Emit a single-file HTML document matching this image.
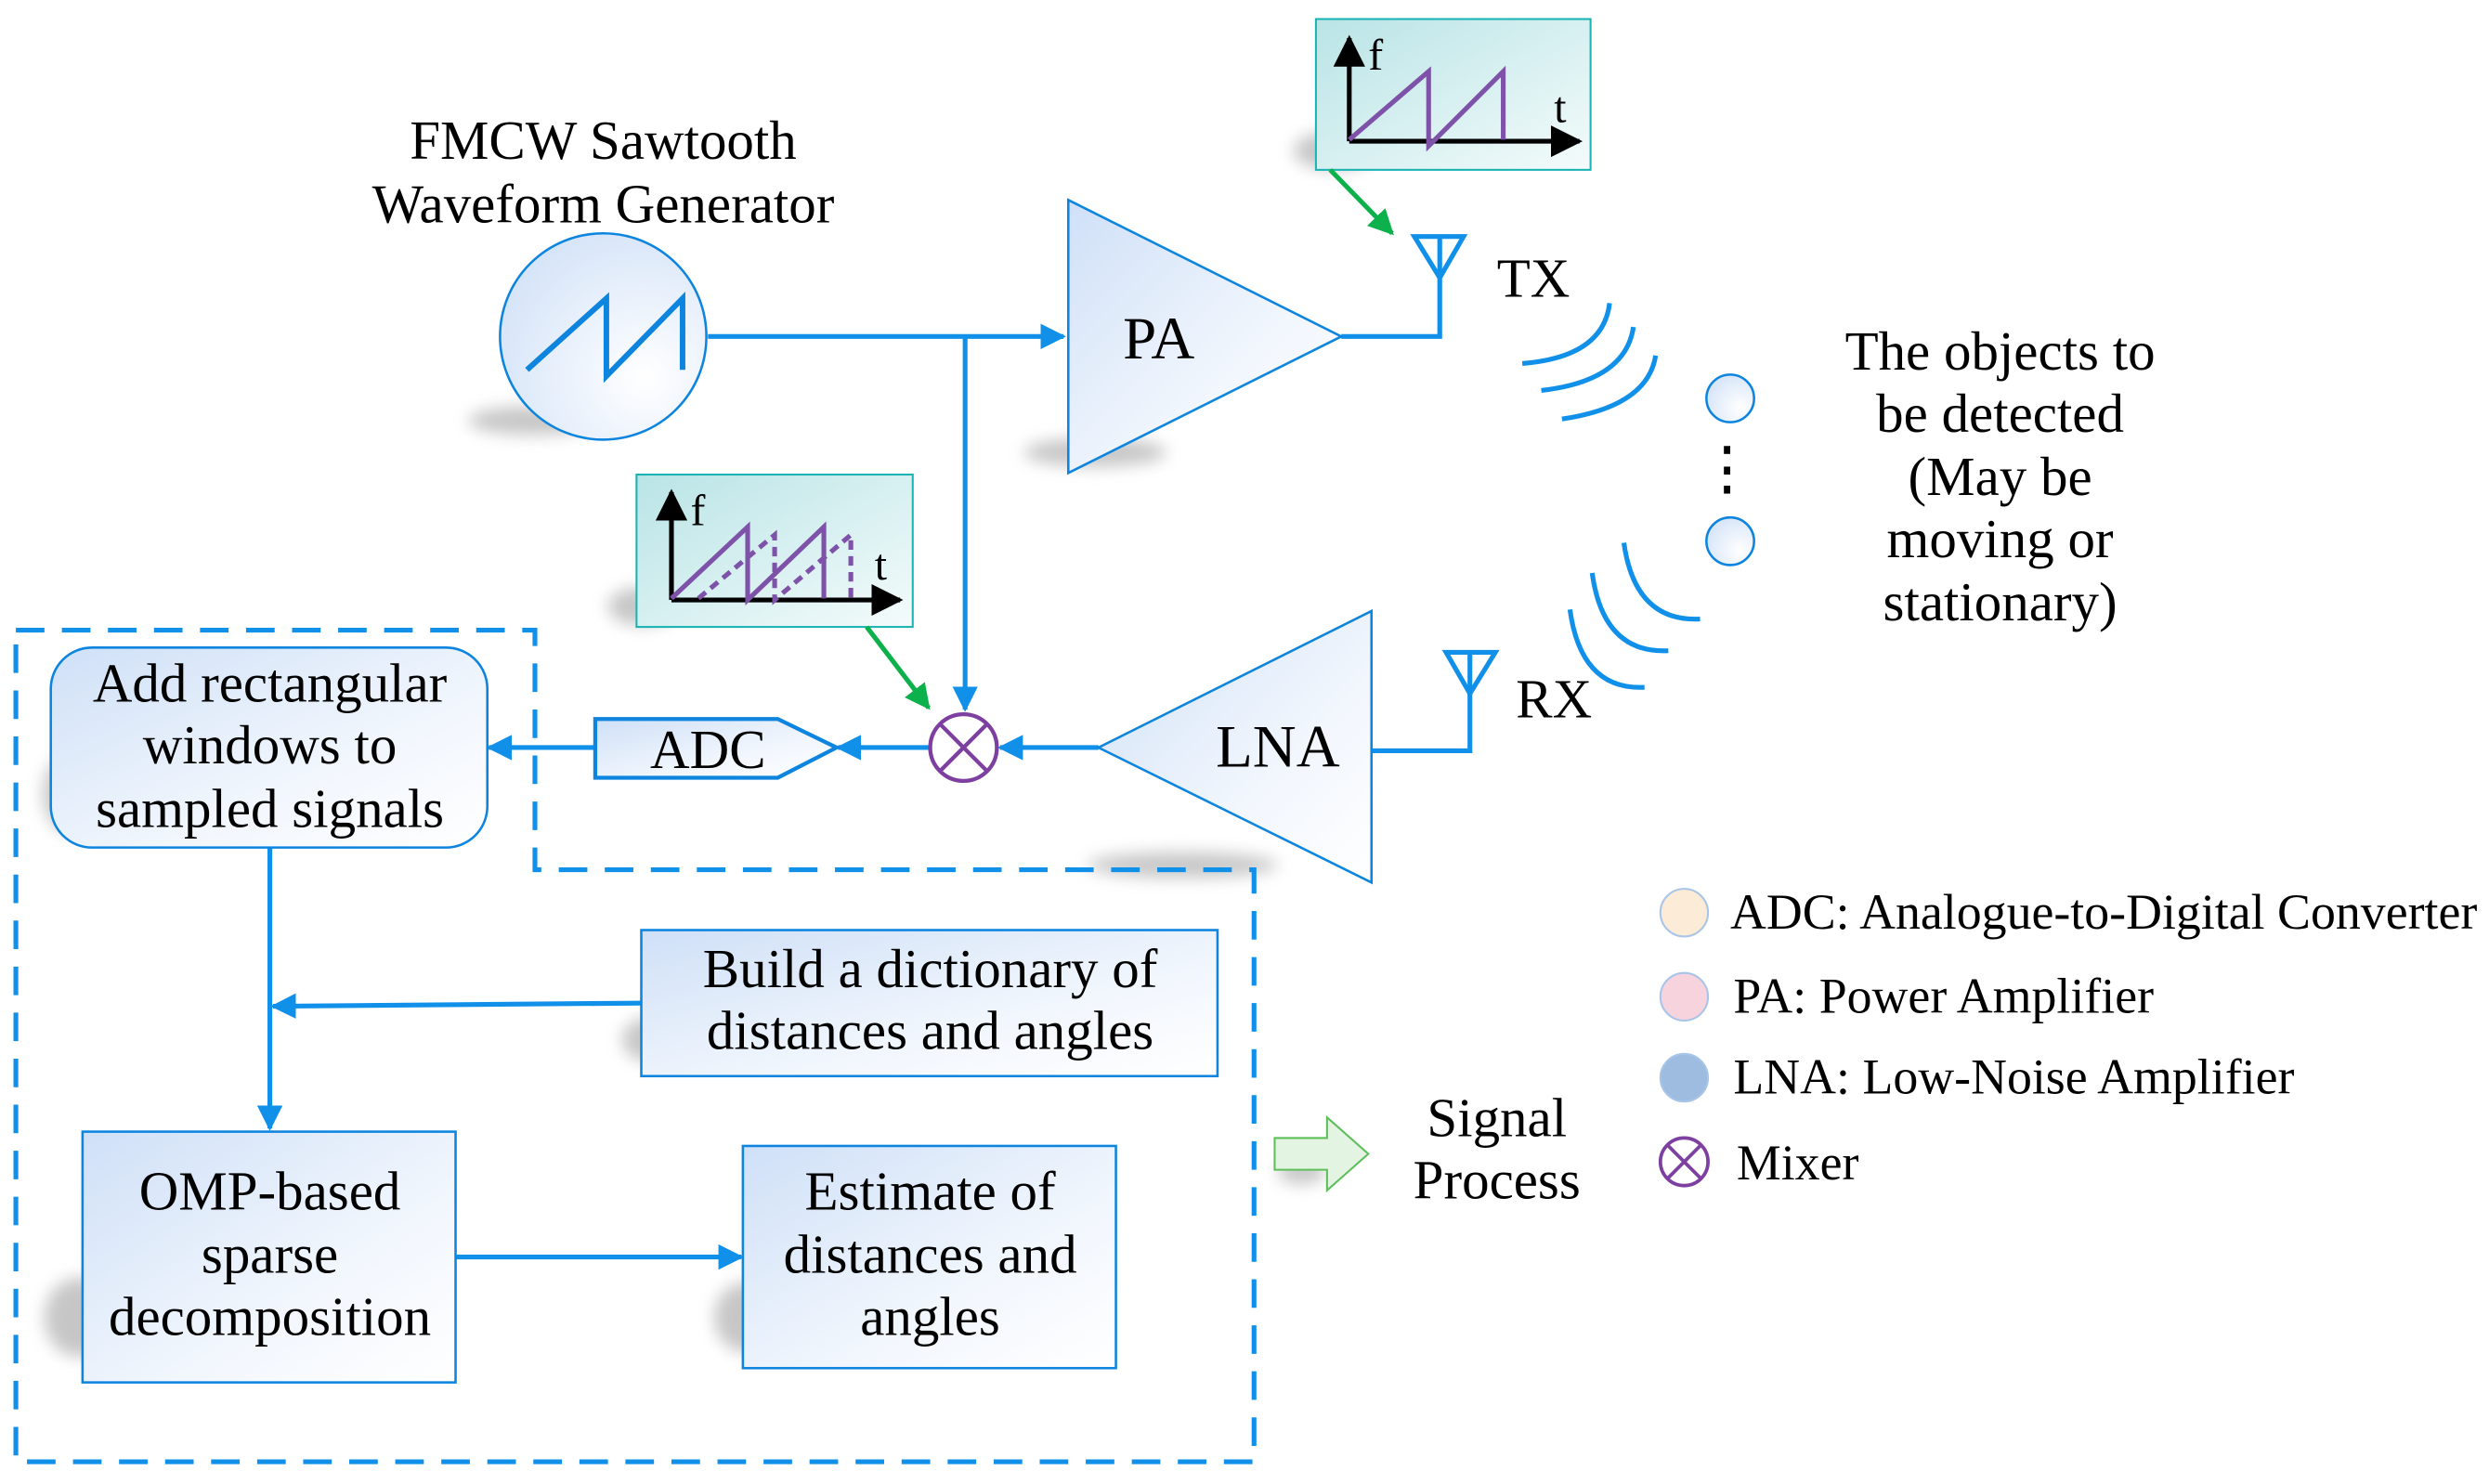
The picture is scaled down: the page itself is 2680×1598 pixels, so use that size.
<!DOCTYPE html>
<html><head><meta charset="utf-8"><style>html,body{margin:0;padding:0;background:#fff}svg{display:block}</style></head>
<body>
<svg width="2680" height="1598" viewBox="0 0 1568 935" preserveAspectRatio="none" xmlns="http://www.w3.org/2000/svg" font-family="'Liberation Serif', serif" font-size="34.5">
<defs>
<linearGradient id="bg" x1="0" y1="0" x2="1" y2="1"><stop offset="0" stop-color="#cfe0f7"/><stop offset="0.6" stop-color="#f1f6fd"/><stop offset="1" stop-color="#ffffff"/></linearGradient>
<linearGradient id="tg" x1="0" y1="0" x2="1" y2="1"><stop offset="0" stop-color="#b9e4e6"/><stop offset="1" stop-color="#f4fbfb"/></linearGradient>
<radialGradient id="cg" cx="0.7" cy="0.7" r="0.8"><stop offset="0" stop-color="#ffffff"/><stop offset="1" stop-color="#d4e3f8"/></radialGradient>
<filter id="blur" x="-50%" y="-50%" width="200%" height="200%"><feGaussianBlur stdDeviation="5"/></filter>
<marker id="ab" viewBox="0 0 10 10" markerWidth="16" markerHeight="16" refX="9" refY="5" orient="auto" markerUnits="userSpaceOnUse"><path d="M0,0 L10,5 L0,10 Z" fill="#1190ea"/></marker>
<marker id="ag" viewBox="0 0 10 10" markerWidth="16" markerHeight="16" refX="9" refY="5" orient="auto" markerUnits="userSpaceOnUse"><path d="M0,0 L10,5 L0,10 Z" fill="#0db14b"/></marker>
<marker id="ak" viewBox="0 0 10 10" markerWidth="20" markerHeight="20" refX="9" refY="5" orient="auto" markerUnits="userSpaceOnUse"><path d="M0,0 L10,5 L0,10 Z" fill="#000"/></marker>
</defs>

<g fill="#999" opacity="0.55" filter="url(#blur)">
<ellipse cx="335" cy="265" rx="40" ry="9"/>
<ellipse cx="690" cy="285" rx="45" ry="9"/>
<ellipse cx="745" cy="545" rx="60" ry="8"/>
<ellipse cx="45" cy="500" rx="18" ry="25"/>
<ellipse cx="410" cy="655" rx="18" ry="14"/>
<ellipse cx="50" cy="830" rx="22" ry="25"/>
<ellipse cx="470" cy="830" rx="20" ry="22"/>
<ellipse cx="840" cy="95" rx="25" ry="12"/>
<ellipse cx="405" cy="382" rx="22" ry="12"/>
<ellipse cx="820" cy="738" rx="15" ry="8"/>
</g>

<text x="380" y="100" text-anchor="middle">FMCW Sawtooth</text>
<text x="380" y="140" text-anchor="middle">Waveform Generator</text>

<ellipse cx="380" cy="212" rx="65" ry="65" fill="url(#cg)" stroke="#0d85de" stroke-width="1.5"/>
<polyline points="332,233 382,188 382,237 430,188 430,233" fill="none" stroke="#0d85de" stroke-width="3.5"/>

<g stroke="#1190ea" stroke-width="3" fill="none">
<line x1="446" y1="212" x2="670" y2="212" marker-end="url(#ab)"/>
<line x1="608" y1="212" x2="608" y2="447" marker-end="url(#ab)"/>
<polyline points="845,212 907,212 907,175"/>
<polyline points="864,473 926,473 926,437"/>
<line x1="692" y1="471" x2="630" y2="471" marker-end="url(#ab)"/>
<line x1="585" y1="471" x2="528" y2="471" marker-end="url(#ab)"/>
<line x1="375" y1="471" x2="308" y2="471" marker-end="url(#ab)"/>
<line x1="170" y1="534" x2="170" y2="711" marker-end="url(#ab)"/>
<line x1="404" y1="632" x2="172" y2="634" marker-end="url(#ab)"/>
<line x1="287" y1="792" x2="467" y2="792" marker-end="url(#ab)"/>
</g>

<polygon points="673,126 673,298 845,212" fill="url(#bg)" stroke="#0d85de" stroke-width="1.5"/>
<text x="730" y="226" text-anchor="middle" font-size="38">PA</text>
<polygon points="864,385 864,556 692,471" fill="url(#bg)" stroke="#0d85de" stroke-width="1.5"/>
<text x="805" y="483" text-anchor="middle" font-size="38">LNA</text>

<g stroke="#1190ea" stroke-width="3" fill="none">
<polygon points="891,149 922,149 907,175"/><line x1="907" y1="149" x2="907" y2="175"/>
<polygon points="911,411 942,411 926,437"/><line x1="926" y1="411" x2="926" y2="437"/>
<path d="M959,229 Q1010,225 1014,191"/>
<path d="M971,246 Q1024,240 1029,206"/>
<path d="M984,264 Q1038,256 1043,224"/>
<path d="M1023,342 Q1030,392 1071,390"/>
<path d="M1003,361 Q1010,412 1051,410"/>
<path d="M989,384 Q996,435 1036,433"/>
</g>
<text x="943" y="187">TX</text>
<text x="955" y="452">RX</text>

<circle cx="1090" cy="251" r="15" fill="url(#cg)" stroke="#0d85de" stroke-width="1.5"/>
<circle cx="1090" cy="341" r="15" fill="url(#cg)" stroke="#0d85de" stroke-width="1.5"/>
<g fill="#000"><rect x="1086" y="281" width="4" height="5"/><rect x="1086" y="294" width="4" height="5"/><rect x="1086" y="306" width="4" height="5"/></g>
<g text-anchor="middle">
<text x="1260" y="233">The objects to</text>
<text x="1260" y="272">be detected</text>
<text x="1260" y="312">(May be</text>
<text x="1260" y="351">moving or</text>
<text x="1260" y="391">stationary)</text>
</g>

<rect x="829" y="12" width="173" height="95" fill="url(#tg)" stroke="#1ab3b3" stroke-width="1.2"/>
<line x1="850" y1="89" x2="850" y2="24" stroke="#000" stroke-width="3" marker-end="url(#ak)"/>
<line x1="850" y1="89" x2="995" y2="89" stroke="#000" stroke-width="3" marker-end="url(#ak)"/>
<text x="862" y="44" font-size="28">f</text><text x="979" y="77" font-size="28">t</text>
<polyline points="850,88 900,45 900,92 947,45 947,88" fill="none" stroke="#7d52a8" stroke-width="3"/>
<line x1="838" y1="107" x2="877" y2="147" stroke="#0db14b" stroke-width="3" marker-end="url(#ag)"/>

<rect x="401" y="299" width="174" height="96" fill="url(#tg)" stroke="#1ab3b3" stroke-width="1.2"/>
<line x1="423" y1="378" x2="423" y2="310" stroke="#000" stroke-width="3" marker-end="url(#ak)"/>
<line x1="423" y1="378" x2="567" y2="378" stroke="#000" stroke-width="3" marker-end="url(#ak)"/>
<text x="435" y="331" font-size="28">f</text><text x="551" y="365" font-size="28">t</text>
<polyline points="423,377 471,332 471,378 519,332 519,377" fill="none" stroke="#7d52a8" stroke-width="3"/>
<polyline points="440,377 488,337 488,378 536,337 536,377" fill="none" stroke="#7d52a8" stroke-width="3" stroke-dasharray="6,4"/>
<line x1="546" y1="395" x2="585" y2="446" stroke="#0db14b" stroke-width="3" marker-end="url(#ag)"/>

<circle cx="607" cy="471" r="21" fill="#fff" stroke="#7d3fa0" stroke-width="2.5"/>
<line x1="592" y1="456" x2="622" y2="486" stroke="#7d3fa0" stroke-width="2.5"/>
<line x1="622" y1="456" x2="592" y2="486" stroke="#7d3fa0" stroke-width="2.5"/>

<polygon points="375,453 490,453 527,471 490,490 375,490" fill="url(#bg)" stroke="#0d85de" stroke-width="2.5"/>
<text x="446" y="484" text-anchor="middle">ADC</text>

<polygon points="10,397 337,397 337,548 790,548 790,921 10,921" fill="none" stroke="#1190ea" stroke-width="3" stroke-dasharray="18,11"/>

<rect x="32" y="408" width="275" height="126" rx="26" fill="url(#bg)" stroke="#0d85de" stroke-width="1.5"/>
<g text-anchor="middle">
<text x="170" y="442">Add rectangular</text>
<text x="170" y="481">windows to</text>
<text x="170" y="521">sampled signals</text>
</g>
<rect x="404" y="586" width="363" height="92" fill="url(#bg)" stroke="#0d85de" stroke-width="1.5"/>
<text x="586" y="622" text-anchor="middle">Build a dictionary of</text>
<text x="586" y="661" text-anchor="middle">distances and angles</text>
<rect x="52" y="713" width="235" height="158" fill="url(#bg)" stroke="#0d85de" stroke-width="1.5"/>
<g text-anchor="middle">
<text x="170" y="762">OMP-based</text>
<text x="170" y="802">sparse</text>
<text x="170" y="841">decomposition</text>
</g>
<rect x="468" y="722" width="235" height="140" fill="url(#bg)" stroke="#0d85de" stroke-width="1.5"/>
<g text-anchor="middle">
<text x="586" y="762">Estimate of</text>
<text x="586" y="802">distances and</text>
<text x="586" y="841">angles</text>
</g>

<polygon points="803,717 836,717 836,704 862,727 836,750 836,737 803,737" fill="#e4f4e2" stroke="#5cbf5a" stroke-width="1.2"/>
<text x="943" y="716" text-anchor="middle">Signal</text>
<text x="943" y="755" text-anchor="middle">Process</text>

<circle cx="1061" cy="575" r="15" fill="#fcebd6" stroke="#a8c4e8" stroke-width="1.2"/>
<circle cx="1061" cy="628" r="15" fill="#f6d3dd" stroke="#a8c4e8" stroke-width="1.2"/>
<circle cx="1061" cy="679" r="15" fill="#9dbce0" stroke="#a8c4e8" stroke-width="1.2"/>
<circle cx="1061" cy="732" r="15" fill="#fff" stroke="#7d3fa0" stroke-width="2.2"/>
<line x1="1051" y1="722" x2="1071" y2="742" stroke="#7d3fa0" stroke-width="2.2"/>
<line x1="1071" y1="722" x2="1051" y2="742" stroke="#7d3fa0" stroke-width="2.2"/>
<g font-size="31.5">
<text x="1090" y="585">ADC: Analogue-to-Digital Converter</text>
<text x="1092" y="638">PA: Power Amplifier</text>
<text x="1092" y="689">LNA: Low-Noise Amplifier</text>
<text x="1094" y="743">Mixer</text>
</g>
</svg>
</body></html>
